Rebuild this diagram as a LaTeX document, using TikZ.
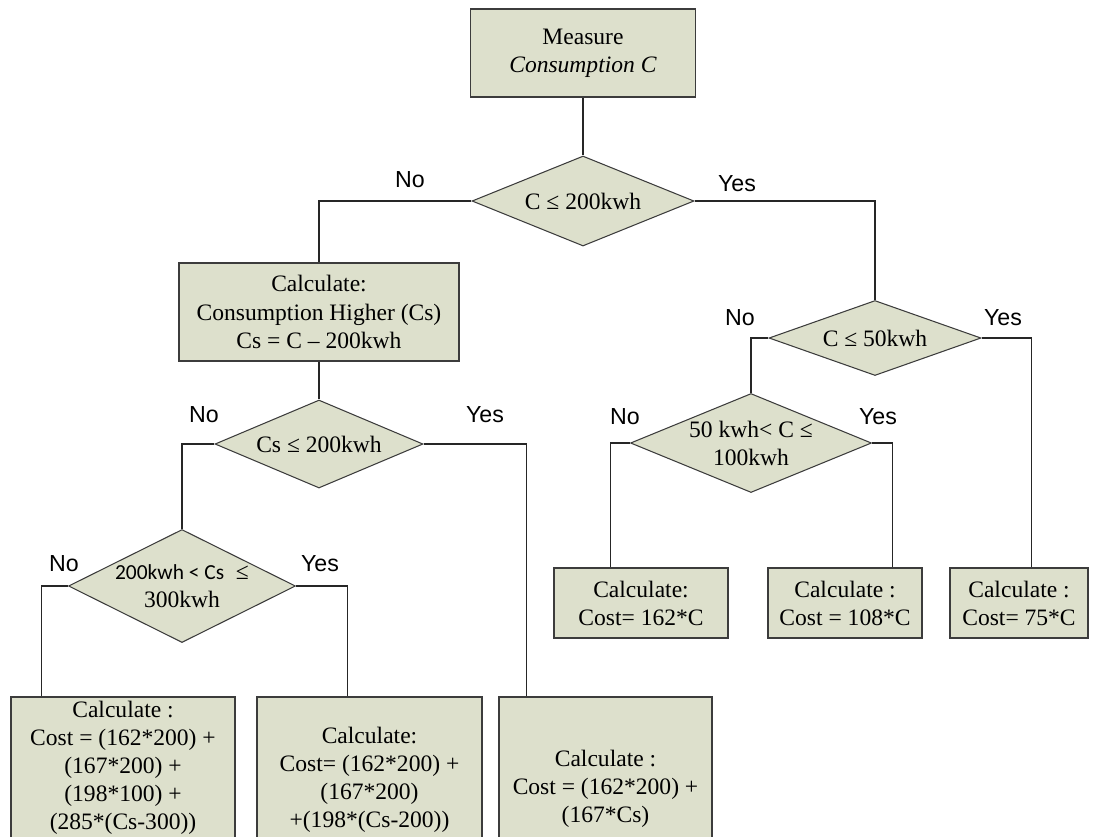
\documentclass[tikz,border=0pt]{standalone}
\usepackage{fontspec}
\setmainfont{Liberation Serif}
\newfontfamily\yesnofont{Liberation Sans}
\newfontfamily\calibrifont{Carlito}
\usetikzlibrary{shapes.geometric}
\definecolor{boxfill}{RGB}{221,224,204}
\definecolor{edgegray}{RGB}{60,60,60}

\begin{document}
\begin{tikzpicture}[x=0.2mm, y=-0.2mm,
        box/.style={rectangle, draw=edgegray, fill=boxfill, line width=0.6pt, align=center, inner sep=0pt, font=\fontsize{13.4}{16}\selectfont},
        decision/.style={diamond, draw=edgegray, fill=boxfill, line width=0.6pt, inner sep=0pt},
        cond/.style={font=\fontsize{13.4}{16}\selectfont, align=center},
        answer/.style={font=\yesnofont\fontsize{13.2}{15}\selectfont},
        link/.style={draw=black!85, line width=0.6pt}]
        \useasboundingbox (0,0) rectangle (1101,836);

        \node[box, minimum width=45mm, minimum height=17.6mm] (measure) at (583,53) {Measure\\\textit{Consumption C}};
        \node[decision, minimum width=44.4mm, minimum height=18mm, label={[cond]center:C ≤ 200kwh}] (le200) at (583,201) {};
        \node[box, minimum width=56mm, minimum height=19.6mm] (calc) at (319,312) {Calculate:\\Consumption Higher (Cs)\\Cs = C – 200kwh};
        \node[decision, minimum width=41.6mm, minimum height=17.6mm, label={[cond]center:Cs ≤ 200kwh}] (csle200) at (319,444) {};
        \node[decision, minimum width=45.4mm, minimum height=22.6mm, label={[cond]center:{{\calibrifont\fontsize{12.2}{16}\selectfont 200kwh < Cs} ~≤\\300kwh}}] (cs300) at (182,586) {};
        \node[decision, minimum width=42.4mm, minimum height=15mm, label={[cond]center:C ≤ 50kwh}] (le50) at (875,338) {};
        \node[decision, minimum width=48.2mm, minimum height=19.8mm, label={[cond]center:{50 kwh< C ≤\\100kwh}}] (le100) at (751,443) {};

        \node[box, minimum width=34.8mm, minimum height=14mm] (cost162) at (641,603) {Calculate:\\Cost= 162*C};
        \node[box, minimum width=30.8mm, minimum height=14mm] (cost108) at (845,603) {Calculate :\\Cost = 108*C};
        \node[box, minimum width=27.6mm, minimum height=14mm] (cost75) at (1019,603) {Calculate :\\Cost= 75*C};
        \node[box, minimum width=44.8mm, minimum height=28.4mm] (cost300) at (123,768) {Calculate :\\Cost = (162*200) +\\(167*200) +\\(198*100) +\\(285*(Cs-300))};
        \node[box, minimum width=45mm, minimum height=33.2mm] (cost200) at (369.5,780) {Calculate:\\Cost= (162*200) +\\(167*200)\\+(198*(Cs-200))};
        \node[box, minimum width=42.6mm, minimum height=36.8mm] (costcs) at (605.5,789) {Calculate :\\Cost = (162*200) +\\(167*Cs)};

        \node[answer] (no1) at (410,180) {No};
        \node[answer] (yes1) at (737,184) {Yes};
        \node[answer] (no2) at (204,415) {No};
        \node[answer] (yes2) at (485,415) {Yes};
        \node[answer] (no3) at (64,564) {No};
        \node[answer] (yes3) at (320,564) {Yes};
        \node[answer] (no4) at (740,318) {No};
        \node[answer] (yes4) at (1003,318) {Yes};
        \node[answer] (no5) at (625,417) {No};
        \node[answer] (yes5) at (878,417) {Yes};

        \draw[link] (measure) -- (le200);
        \draw[link] (le200.west) -| (calc.north);
        \draw[link] (le200.east) -| (le50.north);
        \draw[link] (calc) -- (csle200);
        \draw[link] (csle200.west) -| (cs300.north);
        \draw[link] (csle200.east) -| ([xshift=5.6mm]costcs.north west);
        \draw[link] (cs300.west) -| ([xshift=6.2mm]cost300.north west);
        \draw[link] (cs300.east) -| ([xshift=18.2mm]cost200.north west);
        \draw[link] (le50.west) -| (le100.north);
        \draw[link] (le50.east) -| ([xshift=16.4mm]cost75.north west);
        \draw[link] (le100.west) -| ([xshift=11.4mm]cost162.north west);
        \draw[link] (le100.east) -| ([xshift=25mm]cost108.north west);
    \end{tikzpicture}
\end{document}
